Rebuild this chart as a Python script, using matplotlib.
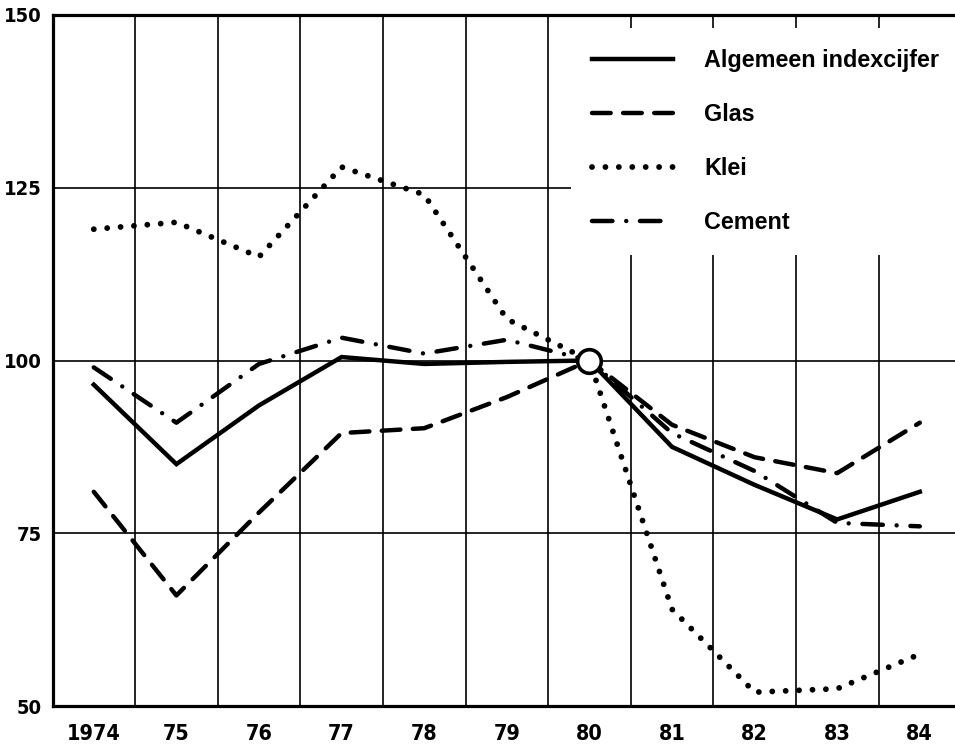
import matplotlib
matplotlib.use("Agg")
import matplotlib.pyplot as plt

years = [1974, 1975, 1976, 1977, 1978, 1979, 1980, 1981, 1982, 1983, 1984]
year_labels = ["1974", "75", "76", "77", "78", "79", "80", "81", "82", "83", "84"]
algemeen = [96.5, 85.0, 93.5, 100.5, 99.5, 99.8, 100.0, 87.5, 82.0, 77.0, 81.0]
glas = [81.0, 66.0, 78.0, 89.5, 90.2, 94.7, 100.0, 90.7, 86.0, 83.7, 91.0]
klei = [119.0, 120.0, 115.0, 128.0, 124.0, 106.0, 100.0, 64.0, 52.0, 52.5, 57.5]
cement = [99.0, 91.0, 99.5, 103.3, 101.0, 103.0, 100.0, 89.5, 84.0, 76.5, 76.0]
y_ticks = [50, 75, 100, 125, 150]
names = ["Algemeen indexcijfer", "Glas", "Klei", "Cement"]
base_year, base_value = 1980, 100

tick_font = ["DejaVu Sans"]
legend_font = ["Liberation Sans", "DejaVu Sans"]

W, H = 955, 748
fig = plt.figure(figsize=(W / 100, H / 100), dpi=100)
ax = fig.add_axes([52.5 / W, (H - 706) / H, 1 - 52.5 / W, (706 - 15) / H])
px = 82.6
ax.set_xlim(1973.5, 1973.5 + (W - 52.5) / px)
ax.set_ylim(50, 150)

# grid
for x in [y + 0.5 for y in years[:-1]]:
    ax.axvline(x, color="black", lw=1.2, zorder=1)
for yv in y_ticks[1:-1]:
    ax.axhline(yv, color="black", lw=1.2, zorder=1)

lw = 3.2
ax.plot(years, algemeen, color="black", lw=lw, solid_joinstyle="miter", zorder=3, label=names[0])
ax.plot(years, glas, color="black", lw=lw, dashes=(4.2, 2.8), dash_capstyle="round", zorder=3, label=names[1])
ax.plot(years, klei, color="black", lw=4.2, dashes=(0.001, 2.3), dash_capstyle="round", zorder=3, label=names[2])
ax.plot(years, cement, color="black", lw=lw, dashes=(4.6, 3.1, 0.001, 3.1), dash_capstyle="round", zorder=3, label=names[3])
ax.plot([base_year], [base_value], marker="o", ms=17, mfc="white", mec="black", mew=2.6, zorder=6, linestyle="none")

for s in ["left", "bottom", "top"]:
    ax.spines[s].set_linewidth(2.3)
ax.spines["right"].set_visible(False)

ax.set_xticks(years)
ax.set_xticklabels(year_labels, fontfamily=tick_font, fontweight="bold", fontstretch="condensed", fontsize=15.5)
ax.set_yticks(y_ticks)
ax.set_yticklabels([str(v) for v in y_ticks], fontfamily=tick_font, fontweight="bold", fontstretch="condensed", fontsize=14.5)
ax.tick_params(axis="both", length=0)
ax.tick_params(axis="x", pad=13)
ax.tick_params(axis="y", pad=8)

fs = 16.8
bp = 0.9
bp_px = bp * fs * 100 / 72
leg = ax.legend(loc="upper left", bbox_to_anchor=((592 - bp_px) / W, 1 - (49 - bp_px) / H), bbox_transform=fig.transFigure,
                prop={"family": legend_font, "weight": "bold", "size": fs},
                frameon=True, fancybox=False, framealpha=1, facecolor="white", edgecolor="white",
                handlelength=3.45, handletextpad=1.35, labelspacing=1.33, borderpad=bp, borderaxespad=0)
leg.set_zorder(5)
leg.get_frame().set_linewidth(0)

fig.savefig("out.png", dpi=100)
